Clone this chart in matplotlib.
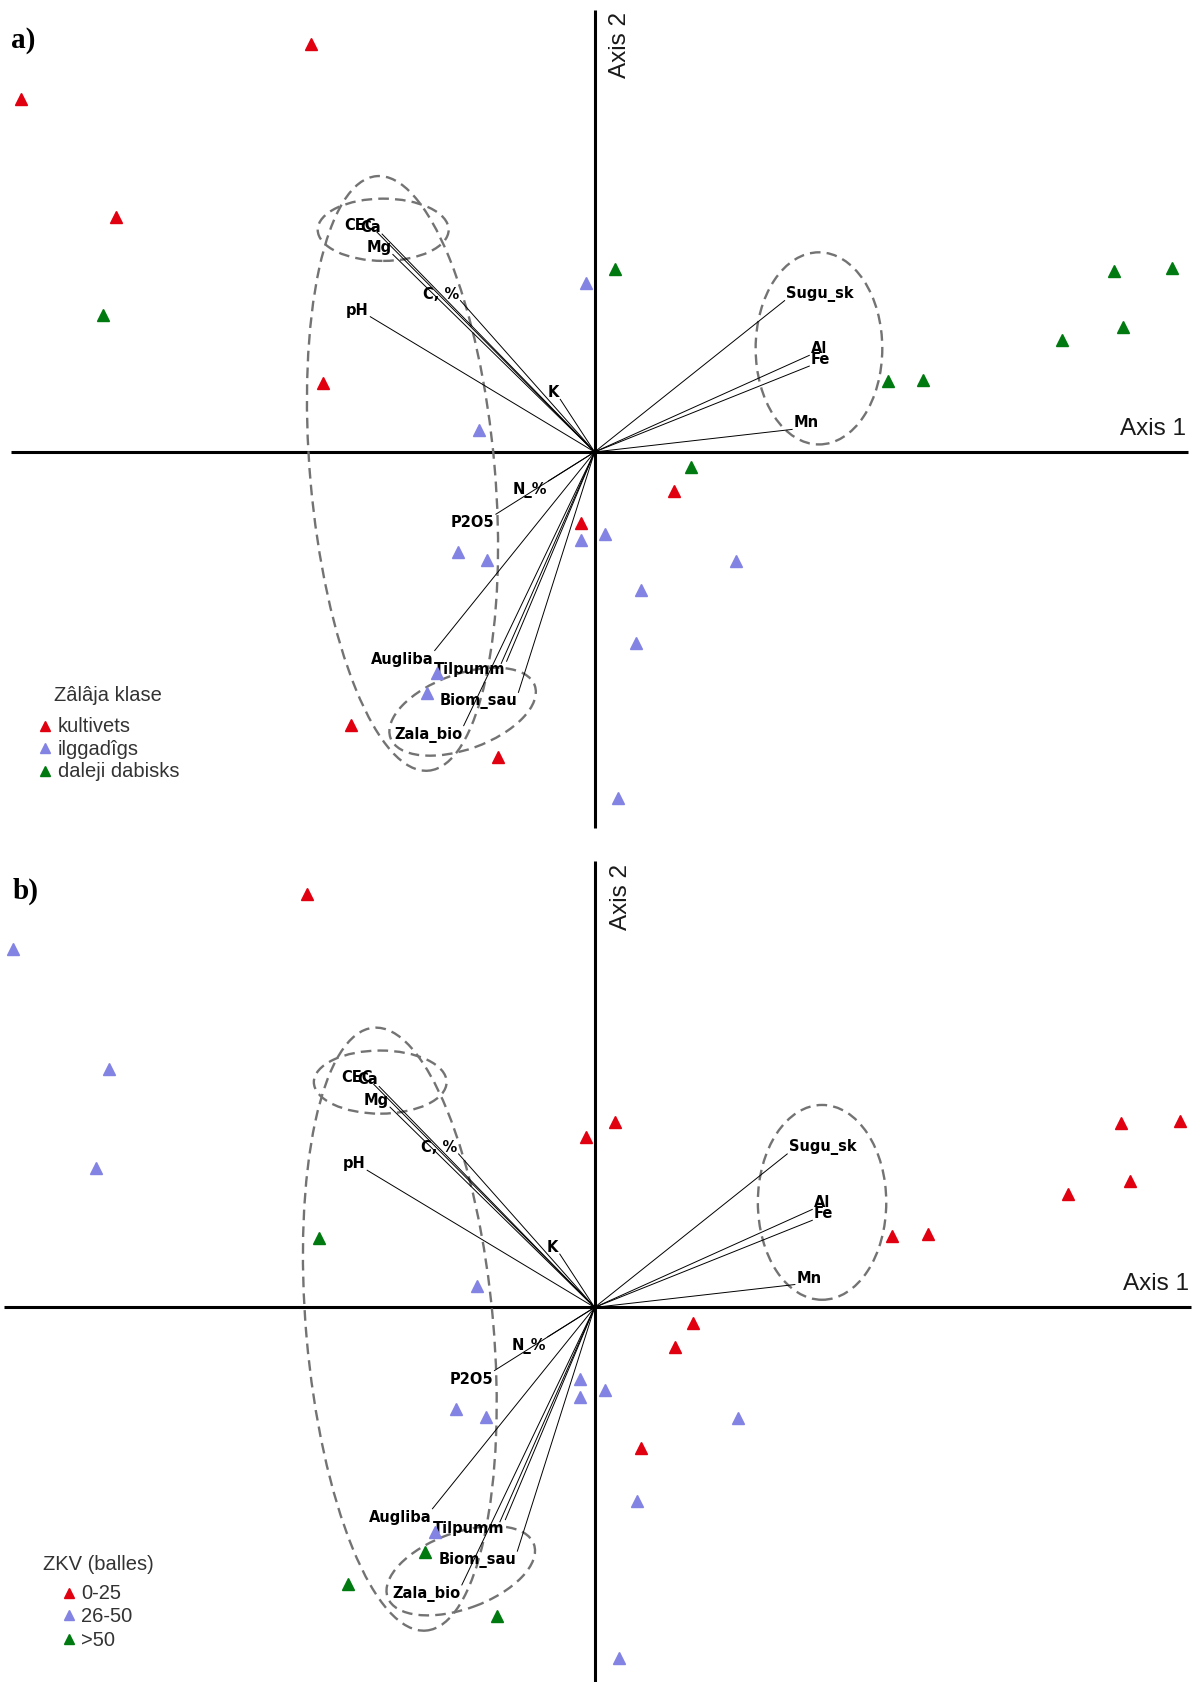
import matplotlib
matplotlib.use('agg')
import matplotlib.pyplot as plt
from matplotlib.patches import Ellipse

# site scores (axis 1, axis 2)
site_x = [-2.64, -5.34, -4.46, -4.58, -2.53, -0.08, 0.19, -1.08, 0.90, 0.74,
          -0.13, -0.13, 0.10, -1.27, -1.00, 1.32, 0.43, 0.39, -1.47, -1.56,
          -2.27, -0.90, 0.22, 2.73, 3.06, 4.35, 4.84, 5.38, 4.92]
site_y = [3.80, 3.29, 2.19, 1.28, 0.64, 1.57, 1.70, 0.20, -0.14, -0.36,
          -0.66, -0.82, -0.76, -0.93, -1.01, -1.02, -1.29, -1.78, -2.06, -2.25,
          -2.54, -2.84, -3.22, 0.66, 0.67, 1.04, 1.69, 1.71, 1.16]

# group of each site: a) grassland class, b) ZKV score
group_a = [0, 0, 0, 2, 0, 1, 2, 1, 2, 0, 0, 1, 1, 1, 1, 1, 1, 1, 1, 1,
           0, 0, 1, 2, 2, 2, 2, 2, 2]
group_b = [0, 1, 1, 1, 2, 0, 0, 1, 0, 0, 1, 1, 1, 1, 1, 1, 0, 1, 1, 2,
           2, 2, 1, 0, 0, 0, 0, 0, 0]

labels_a = ['kultivets', 'ilggadîgs', 'daleji dabisks']
labels_b = ['0-25', '26-50', '>50']
title_a = 'Zâlâja klase'
title_b = 'ZKV (balles)'

# environmental vectors (joint plot)
vec_names = ['CEC', 'Ca', 'Mg', 'C, %', 'pH', 'K', 'Sugu_sk', 'Al', 'Fe', 'Mn',
             'N_%', 'P2O5', 'Augliba', 'Tilpumm', '', 'Biom_sau', 'Zala_bio']
vec_x = [-2.03, -1.98, -1.88, -1.25, -2.09, -0.32, 1.77, 2.00, 2.00, 1.84,
         -0.43, -0.92, -1.49, -0.82, -0.87, -0.71, -1.22]
vec_y = [2.05, 2.03, 1.84, 1.41, 1.26, 0.49, 1.41, 0.90, 0.80, 0.21,
         -0.27, -0.58, -1.85, -1.95, -1.97, -2.24, -2.55]

# dashed groupings: centre x, centre y, width, height, angle
ell_cx = [-1.97, -1.79, -1.23, 2.09]
ell_cy = [2.07, -0.20, -2.42, 0.965]
ell_w = [1.22, 1.72, 1.43, 1.18]
ell_h = [0.58, 5.56, 0.70, 1.79]
ell_ang = [0, 5, 20, 0]

colors = ['#e0000f', '#8383e3', '#007a10']
sans = 'Liberation Sans'


def draw_panel(ax, groups, labels, title, xext, yext, key_pos):
    ax.set_axis_off()
    ax.plot(xext, [0, 0], color='black', lw=2.2, solid_capstyle='butt', zorder=2)
    ax.plot([0, 0], yext, color='black', lw=2.2, solid_capstyle='butt', zorder=2)

    for cx, cy, w, h, a in zip(ell_cx, ell_cy, ell_w, ell_h, ell_ang):
        ax.add_patch(Ellipse((cx, cy), w, h, angle=a, fill=False, ec='#737373',
                             lw=1.7, ls=(0, (4.5, 2.6)), zorder=3))

    for name, vx, vy in zip(vec_names, vec_x, vec_y):
        ax.plot([0, vx], [0, vy], color='black', lw=0.7, zorder=4)
        if name:
            ax.annotate(name, (vx, vy), xytext=(1 if vx > 0 else -1, 0),
                        textcoords='offset points',
                        ha='left' if vx > 0 else 'right',
                        va='bottom' if vy > 0 else 'top',
                        fontsize=10.5, fontweight='bold', family='DejaVu Sans',
                        zorder=5)

    for g in range(3):
        xs = [x for x, k in zip(site_x, groups) if k == g]
        ys = [y for y, k in zip(site_y, groups) if k == g]
        ax.plot(xs, ys, ls='none', marker='^', ms=8.5, color=colors[g],
                mec=colors[g], zorder=6)

    ax.text(xext[1] - 0.02, 0.22, 'Axis 1', ha='right', va='center',
            fontsize=17.5, family=sans, color='#1a1a1a')
    ax.text(0.24, yext[1] - 0.32, 'Axis 2', ha='center', va='center',
            rotation=90, fontsize=17.5, family=sans, color='#1a1a1a')

    tx, ty, mx, lx, ly = key_pos
    ax.text(tx, ty, title, ha='left', va='center', fontsize=14.5,
            family=sans, color='#333333')
    for g, lab in enumerate(labels):
        ax.plot([mx], [ly[g]], ls='none', marker='^', ms=7, color=colors[g])
        ax.text(lx, ly[g], lab, ha='left', va='center', fontsize=14.5,
                family=sans, color='#333333')


fig = plt.figure(figsize=(12, 16.83), dpi=100)

ax_a = fig.add_axes([0, 0.49936, 1, 0.50064])
ax_a.set_xlim(-5.54, 5.64)
ax_a.set_ylim(-3.63, 4.22)
draw_panel(ax_a, group_a, labels_a, title_a, [-5.44, 5.53], [-3.50, 4.12],
           (-5.04, -2.26, -5.12, -5.00, [-2.55, -2.76, -2.97]))

ax_b = fig.add_axes([0, 0, 1, 0.49936])
ax_b.set_xlim(-5.464, 5.563)
ax_b.set_ylim(-3.442, 4.280)
draw_panel(ax_b, group_b, labels_b, title_b, [-5.43, 5.48], [-3.45, 4.10],
           (-5.07, -2.35, -4.83, -4.72, [-2.62, -2.83, -3.05]))

fig.text(11 / 1200, 1 - 40 / 1683, 'a)', ha='left', va='center',
         fontsize=21, fontweight='bold', family='Liberation Serif')
fig.text(13 / 1200, 1 - 891 / 1683, 'b)', ha='left', va='center',
         fontsize=21, fontweight='bold', family='Liberation Serif')

fig.savefig('out.png', dpi=100, facecolor='white')
